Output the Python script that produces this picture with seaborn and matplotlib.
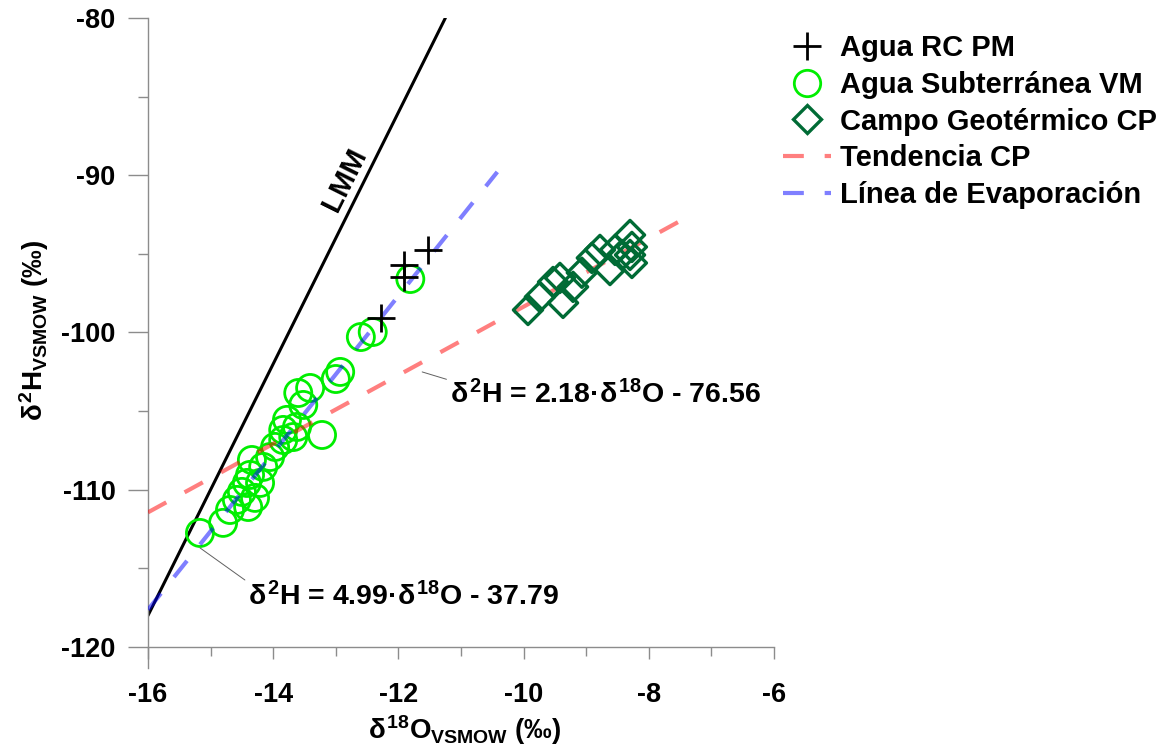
import numpy as np
import pandas as pd
import matplotlib
matplotlib.use("Agg")
import matplotlib.pyplot as plt
import seaborn as sns
from matplotlib.lines import Line2D
from matplotlib.ticker import MultipleLocator

# ---------------- data ----------------
rc_x = [-11.91, -11.91, -11.53, -12.28]
rc_y = [-95.70, -96.47, -94.75, -99.08]

sub_x = [-15.17, -14.80, -14.69, -14.58, -14.40, -14.29, -14.50, -14.42, -14.21,
         -14.37, -14.34, -14.16, -14.05, -13.97, -13.84, -13.62, -13.68, -13.78,
         -13.22, -13.52, -13.60, -13.41, -13.00, -12.93, -12.60, -12.41, -11.81,
         -13.84]
sub_y = [-112.75, -112.11, -111.29, -110.65, -111.10, -110.52, -110.14, -109.57, -109.57,
         -109.06, -108.11, -108.55, -107.92, -107.28, -106.20, -106.01, -106.65, -105.56,
         -106.52, -104.61, -103.85, -103.53, -102.96, -102.51, -100.29, -99.97, -96.60,
         -106.84]

cp_x = [-9.93, -9.74, -9.53, -9.42, -9.37, -9.21, -9.07, -8.91, -8.78, -8.62,
        -8.30, -8.27, -8.30, -8.27, -8.43, -8.54]
cp_y = [-98.57, -97.74, -96.79, -96.53, -98.12, -97.10, -96.20, -95.26, -94.75, -96.03,
        -93.80, -94.56, -95.07, -95.58, -95.07, -94.75]

lmm_x = [-16.0, -11.25]
lmm_y = [-118.0, -80.0]
evap_x = [-16.0, -10.42]
evap_y = [-117.63, -89.79]
tend_x = [-16.0, -7.45]
tend_y = [-111.44, -92.80]

x_ticks = [-16, -14, -12, -10, -8, -6]
y_ticks = [-120, -110, -100, -90, -80]

labels = ["Agua RC PM", "Agua Subterránea VM", "Campo Geotérmico CP",
          "Tendencia CP", "Línea de Evaporación"]

# ---------------- style ----------------
sns.set_theme(style="white")
plt.rcParams["font.family"] = ["Liberation Sans", "DejaVu Sans"]
plt.rcParams["font.weight"] = "bold"
plt.rcParams["text.color"] = "black"
plt.rcParams["axes.labelcolor"] = "black"
plt.rcParams["xtick.color"] = "black"
plt.rcParams["ytick.color"] = "black"
plt.rcParams["mathtext.fontset"] = "custom"
plt.rcParams["mathtext.rm"] = "Liberation Sans:bold"
plt.rcParams["mathtext.bf"] = "Liberation Sans:bold"
plt.rcParams["mathtext.it"] = "Liberation Sans:bold"
plt.rcParams["mathtext.sf"] = "Liberation Sans:bold"

GREEN = "#00EE00"
DKGREEN = "#006B35"
GRAY = "#8c8c8c"

W, H = 1167, 751
fig = plt.figure(figsize=(W / 100, H / 100), dpi=100)
ax = fig.add_axes([148 / W, 1 - 668 / H, (774 - 148) / W, (668 - 18) / H])
ax.set_facecolor("white")

# lines and points
sns.lineplot(x=lmm_x, y=lmm_y, ax=ax, color="black", lw=2.2, zorder=2)
sns.scatterplot(x=sub_x, y=sub_y, ax=ax, marker="o", s=380, facecolors="none",
                edgecolor=GREEN, linewidth=2.0, zorder=3)
sns.lineplot(x=evap_x, y=evap_y, ax=ax, color="blue", alpha=0.5, lw=3, zorder=4)
ax.lines[-1].set_dashes((5, 5))
sns.lineplot(x=tend_x, y=tend_y, ax=ax, color="red", alpha=0.5, lw=3, zorder=4)
ax.lines[-1].set_dashes((5, 5))
sns.scatterplot(x=cp_x, y=cp_y, ax=ax, marker="D", s=220, facecolors="none",
                edgecolor=DKGREEN, linewidth=2.4, zorder=5)
sns.scatterplot(x=rc_x, y=rc_y, ax=ax, marker="+", s=420, color="black",
                linewidth=2.0, zorder=6)

ax.set_xlim(-16, -6)
ax.set_ylim(-121.34, -80)
ax.set_xticks(x_ticks)
ax.set_yticks(y_ticks)
ax.set_xticklabels([str(v) for v in x_ticks])
ax.set_yticklabels([str(v) for v in y_ticks])
ax.xaxis.set_minor_locator(MultipleLocator(1))
ax.yaxis.set_minor_locator(MultipleLocator(5))

for s in ["top", "right"]:
    ax.spines[s].set_visible(False)
ax.spines["bottom"].set_position(("data", -120))
for s in ["left", "bottom"]:
    ax.spines[s].set_color(GRAY)
    ax.spines[s].set_linewidth(1.0)
ax.spines["left"].set_bounds(-121.34, -80)

ax.tick_params(axis="y", which="major", direction="out", length=14.4, width=1,
               color=GRAY, labelcolor="black", pad=9, labelsize=19.5, left=True)
ax.tick_params(axis="y", which="minor", direction="out", length=7.2, width=1,
               color=GRAY, left=True)
ax.tick_params(axis="x", which="major", direction="out", length=8.6, width=1,
               color=GRAY, labelcolor="black", pad=17, labelsize=19.5, bottom=True)
ax.tick_params(axis="x", which="minor", direction="out", length=6.5, width=1,
               color=GRAY, bottom=True)
for lab in ax.get_xticklabels() + ax.get_yticklabels():
    lab.set_fontweight("bold")

ax.set_xlabel(r"$\delta^{18}O_{VSMOW}$ (‰)", fontsize=20, fontweight="bold", color="black")
ax.set_ylabel(r"$\delta^{2}H_{VSMOW}$ (‰)", fontsize=20, fontweight="bold", color="black")
ax.xaxis.set_label_coords(0.506, -0.07)
ax.yaxis.set_label_coords(-0.155, 0.52)

# LMM label
ax.text(-12.85, -90.3, "LMM", rotation=63.5, ha="center", va="center",
        fontsize=21, fontweight="bold", rotation_mode="anchor")

# equation annotations
ax.annotate(r"$\delta^{2}$H = 2.18·$\delta^{18}$O - 76.56", xy=(-11.62, -102.51),
            xytext=(-11.18, -103.97), fontsize=20.5, fontweight="bold",
            ha="left", va="center",
            arrowprops=dict(arrowstyle="-", color="#606060", lw=0.7,
                            relpos=(0, 1), shrinkA=0, shrinkB=0))
ax.annotate(r"$\delta^{2}$H = 4.99·$\delta^{18}$O - 37.79", xy=(-15.17, -113.7),
            xytext=(-14.40, -116.82), fontsize=20.5, fontweight="bold",
            ha="left", va="center",
            arrowprops=dict(arrowstyle="-", color="#606060", lw=0.7,
                            relpos=(0, 1), shrinkA=0, shrinkB=0))

# legend
handles = [
    Line2D([], [], ls="none", marker="+", ms=20, mew=2.0, color="black"),
    Line2D([], [], ls="none", marker="o", ms=19, mew=2.0, mfc="none", mec=GREEN),
    Line2D([], [], ls="none", marker="D", ms=14, mew=2.4, mfc="none", mec=DKGREEN),
    Line2D([], [], color="red", alpha=0.5, lw=3, dashes=(5, 5)),
    Line2D([], [], color="blue", alpha=0.5, lw=3, dashes=(5, 5)),
]
leg = fig.legend(handles, labels, loc="upper left", bbox_to_anchor=(783 / W, 1 - 34 / H),
                 frameon=False, fontsize=21, borderpad=0, borderaxespad=0,
                 handlelength=1.65, handletextpad=0.3, labelspacing=0.3)
for t in leg.get_texts():
    t.set_fontweight("bold")
    t.set_color("black")

fig.savefig("out.png", dpi=100, facecolor="white")
